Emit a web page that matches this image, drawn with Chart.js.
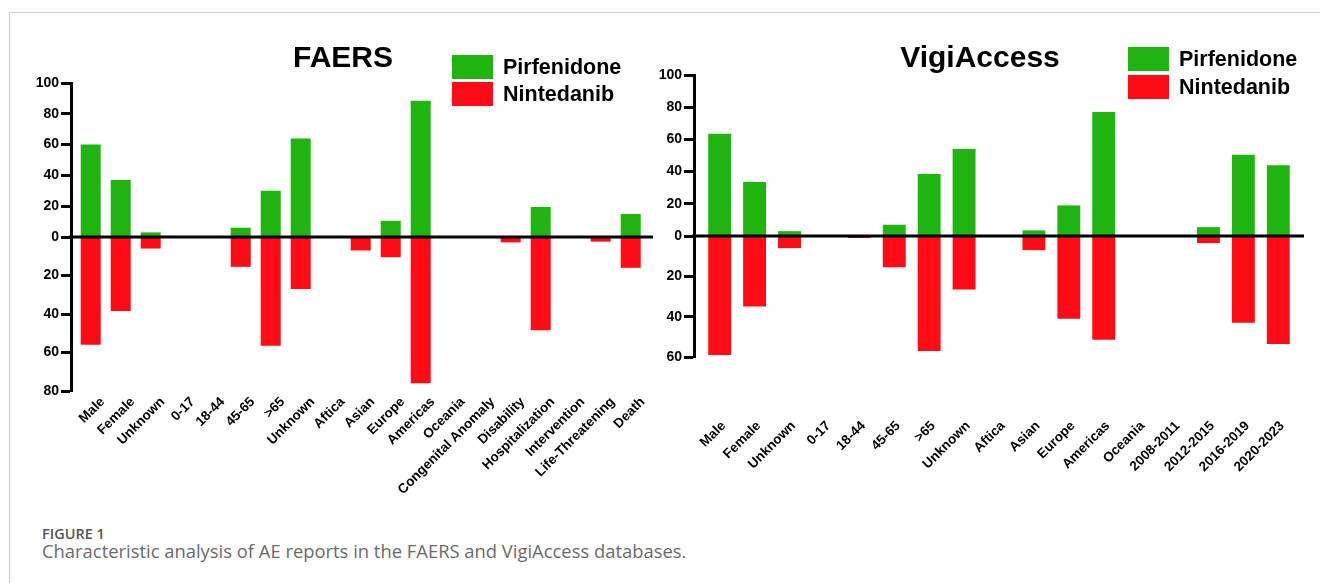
<!DOCTYPE html>
<html>
<head>
<meta charset="utf-8">
<title>Characteristic analysis of AE reports</title>
<script src="https://cdn.jsdelivr.net/npm/chart.js@4/dist/chart.umd.min.js"></script>
<style>
    html, body { margin: 0; padding: 0; background: #fff; }
    .figure { position: relative; width: 1320px; height: 583px; overflow: hidden; font-family: 'Liberation Sans', Arial, sans-serif; }
    .figure__frame { position: absolute; left: 9px; top: 12px; right: -2px; bottom: -2px; border-top: 1px solid #cfcfcf; border-left: 1px solid #cfcfcf; }
    .figure__canvas { position: absolute; top: 0; }
    .chart-title { position: absolute; top: 42px; font-size: 30px; line-height: 30px; font-weight: bold; color: #000; white-space: nowrap; transform: translateX(-50%); }
    .chart-legend__box { position: absolute; width: 41px; height: 24px; }
    .chart-legend__text { position: absolute; font-size: 21.5px; line-height: 21.5px; font-weight: bold; color: #000; white-space: nowrap; }
    .figure__label { position: absolute; left: 42px; top: 527px; font-family: 'Open Sans', sans-serif; font-weight: 600; font-size: 14.5px; line-height: 14px; color: #555; }
    .figure__caption { position: absolute; left: 42px; top: 542px; font-family: 'Open Sans', sans-serif; font-size: 18.4px; line-height: 18px; color: #6a6a6a; white-space: nowrap; }
</style>
</head>
<body>
<div class="figure" id="figure">
    <div class="figure__frame"></div>
    <canvas class="figure__canvas" id="faers-chart" width="655" height="520" style="left:0"></canvas>
    <canvas class="figure__canvas" id="vigi-chart" width="670" height="520" style="left:650px"></canvas>
    <div class="figure__label">FIGURE 1</div>
    <div class="figure__caption">Characteristic analysis of AE reports in the FAERS and VigiAccess databases.</div>
</div>
<script>
(function () {
    'use strict';

    var faersCategories = ['Male', 'Female', 'Unknown', '0-17', '18-44', '45-65', '>65', 'Unknown', 'Aftica', 'Asian',
        'Europe', 'Americas', 'Oceania', 'Congenital Anomaly', 'Disability', 'Hospitalization', 'Intervention',
        'Life-Threatening', 'Death'];
    var faersPirfenidone = [60, 37, 3, null, null, 6, 30, 64, null, null, 10.5, 88.5, null, null, null, 19.5, null, null, 15];
    var faersNintedanib = [56, 38.5, 6, null, null, 15.5, 56.5, 27, null, 7, 10.5, 76, null, null, 2.8, 48.5, null, 2.4, 16];
    var faersUpperTicks = [0, 20, 40, 60, 80, 100];
    var faersLowerTicks = [0, 20, 40, 60, 80];

    var vigiCategories = ['Male', 'Female', 'Unknown', '0-17', '18-44', '45-65', '>65', 'Unknown', 'Aftica', 'Asian',
        'Europe', 'Americas', 'Oceania', '2008-2011', '2012-2015', '2016-2019', '2020-2023'];
    var vigiPirfenidone = [63.5, 33.5, 3, null, null, 7, 38.5, 54, null, 3.5, 19, 77, null, null, 5.5, 50.5, 44];
    var vigiNintedanib = [59, 35, 6, null, 1, 15.5, 57, 26.5, null, 7, 41, 51.5, null, null, 3.5, 43, 53.5];
    var vigiUpperTicks = [0, 20, 40, 60, 80, 100];
    var vigiLowerTicks = [0, 20, 40, 60];

    var seriesNames = ['Pirfenidone', 'Nintedanib'];
    var seriesColors = ['#1fb40f', '#ff0a15'];

    Chart.defaults.font.family = "'Liberation Sans', Arial, sans-serif";
    Chart.defaults.color = '#000';

    var toPoints = function (values) {
            return values.map(function (value, index) {
                return { x: index, y: value };
            });
        },

        // thick black baseline across the plot at zero
        zeroLine = {
            id: 'zeroLine',
            afterDatasetsDraw: function (chart) {
                var ctx = chart.ctx,
                    area = chart.chartArea,
                    y = chart.scales.yUp.getPixelForValue(0);

                ctx.save();
                ctx.strokeStyle = '#000';
                ctx.lineWidth = 3;
                ctx.beginPath();
                ctx.moveTo(area.left - 2, y);
                ctx.lineTo(area.right, y);
                ctx.stroke();
                ctx.restore();
            }
        },

        buildYAxis = function (ticks, weight, reverse, width) {
            return {
                type: 'linear',
                position: 'left',
                stack: 'values',
                stackWeight: weight,
                reverse: reverse,
                offset: false,
                min: 0,
                max: ticks[ticks.length - 1],
                afterBuildTicks: function (scale) {
                    scale.ticks = ticks.map(function (value) { return { value: value }; });
                },
                afterFit: function (scale) {
                    scale.width = width;
                },
                grid: { display: true, drawOnChartArea: false, drawTicks: true, tickLength: 10, tickWidth: 3, tickColor: '#000' },
                border: { display: true, color: '#000', width: 3 },
                ticks: {
                    color: '#000',
                    padding: 2,
                    font: { size: 14, weight: 'bold' },
                    callback: function (value) {
                        return reverse && value === 0 ? '' : value;
                    }
                }
            };
        },

        buildXAxis = function (labels, min, max, height, padding, labelOffset) {
            return {
                type: 'linear',
                offset: false,
                min: min,
                max: max,
                afterBuildTicks: function (scale) {
                    scale.ticks = labels.map(function (label, index) { return { value: index }; });
                },
                afterFit: function (scale) {
                    // fixed height, and no side padding so the plot keeps its place
                    scale.height = height;
                    scale.paddingLeft = 0;
                    scale.paddingRight = 0;
                },
                grid: { display: false, drawTicks: false, offset: false },
                border: { display: false },
                ticks: {
                    autoSkip: false,
                    minRotation: 45,
                    maxRotation: 45,
                    padding: padding,
                    labelOffset: labelOffset,
                    color: '#000',
                    font: { size: 13.5, weight: 'bold' },
                    callback: function (value) {
                        return labels[value];
                    }
                }
            };
        },

        buildDataset = function (index, values, axisId, barPercentage) {
            return {
                label: seriesNames[index],
                data: toPoints(values),
                yAxisID: axisId,
                backgroundColor: seriesColors[index],
                borderWidth: 0,
                grouped: false,
                categoryPercentage: 1,
                barPercentage: barPercentage
            };
        },

        setupChart = function (canvasId, cfg) {
            // in a stack of left axes the later one sits on top, so the lower half is listed first
            return new Chart(document.getElementById(canvasId), {
                type: 'bar',
                data: {
                    datasets: [
                        buildDataset(0, cfg.up, 'yUp', cfg.barPercentage),
                        buildDataset(1, cfg.down, 'yDown', cfg.barPercentage)
                    ]
                },
                options: {
                    responsive: false,
                    animation: false,
                    devicePixelRatio: 1,
                    events: [],
                    layout: { padding: cfg.padding },
                    plugins: { legend: { display: false }, tooltip: { enabled: false }, title: { display: false } },
                    scales: {
                        x: buildXAxis(cfg.labels, cfg.xMin, cfg.xMax, cfg.xHeight, cfg.labelPadding, cfg.labelOffset),
                        yDown: buildYAxis(cfg.downTicks, cfg.downWeight, true, cfg.yWidth),
                        yUp: buildYAxis(cfg.upTicks, cfg.upWeight, false, cfg.yWidth)
                    }
                },
                plugins: [zeroLine]
            });
        },

        setupTitle = function (text, centerX) {
            var el = document.createElement('div');
            el.className = 'chart-title';
            el.style.left = centerX + 'px';
            el.textContent = text;
            document.getElementById('figure').appendChild(el);
        },

        setupLegend = function (left, tops) {
            var figure = document.getElementById('figure');

            seriesNames.forEach(function (name, index) {
                var box = document.createElement('div'),
                    text = document.createElement('div');

                box.className = 'chart-legend__box';
                box.style.left = left + 'px';
                box.style.top = tops[index] + 'px';
                box.style.background = seriesColors[index];

                text.className = 'chart-legend__text';
                text.style.left = (left + 51) + 'px';
                text.style.top = (tops[index] + 2) + 'px';
                text.textContent = name;

                figure.appendChild(box);
                figure.appendChild(text);
            });
        };

    setupChart('faers-chart', {
        labels: faersCategories,
        up: faersPirfenidone,
        down: faersNintedanib,
        upTicks: faersUpperTicks,
        downTicks: faersLowerTicks,
        upWeight: 154,
        downWeight: 154,
        xMin: -0.657,
        xMax: faersCategories.length - 1 + 0.743,
        xHeight: 129,
        yWidth: 71,
        labelPadding: 3,
        labelOffset: 12,
        barPercentage: 0.667,
        padding: { top: 83, left: 0, right: 2, bottom: 0 }
    });

    setupChart('vigi-chart', {
        labels: vigiCategories,
        up: vigiPirfenidone,
        down: vigiNintedanib,
        upTicks: vigiUpperTicks,
        downTicks: vigiLowerTicks,
        upWeight: 161,
        downWeight: 121,
        xMin: -0.736,
        xMax: vigiCategories.length - 1 + 0.736,
        xHeight: 163,
        yWidth: 44,
        labelPadding: 61,
        labelOffset: 4,
        barPercentage: 0.656,
        padding: { top: 75, left: 0, right: 16, bottom: 0 }
    });

    setupTitle('FAERS', 343);
    setupTitle('VigiAccess', 980);
    setupLegend(452, [55, 82]);
    setupLegend(1128, [47, 75]);
}());
</script>
</body>
</html>
